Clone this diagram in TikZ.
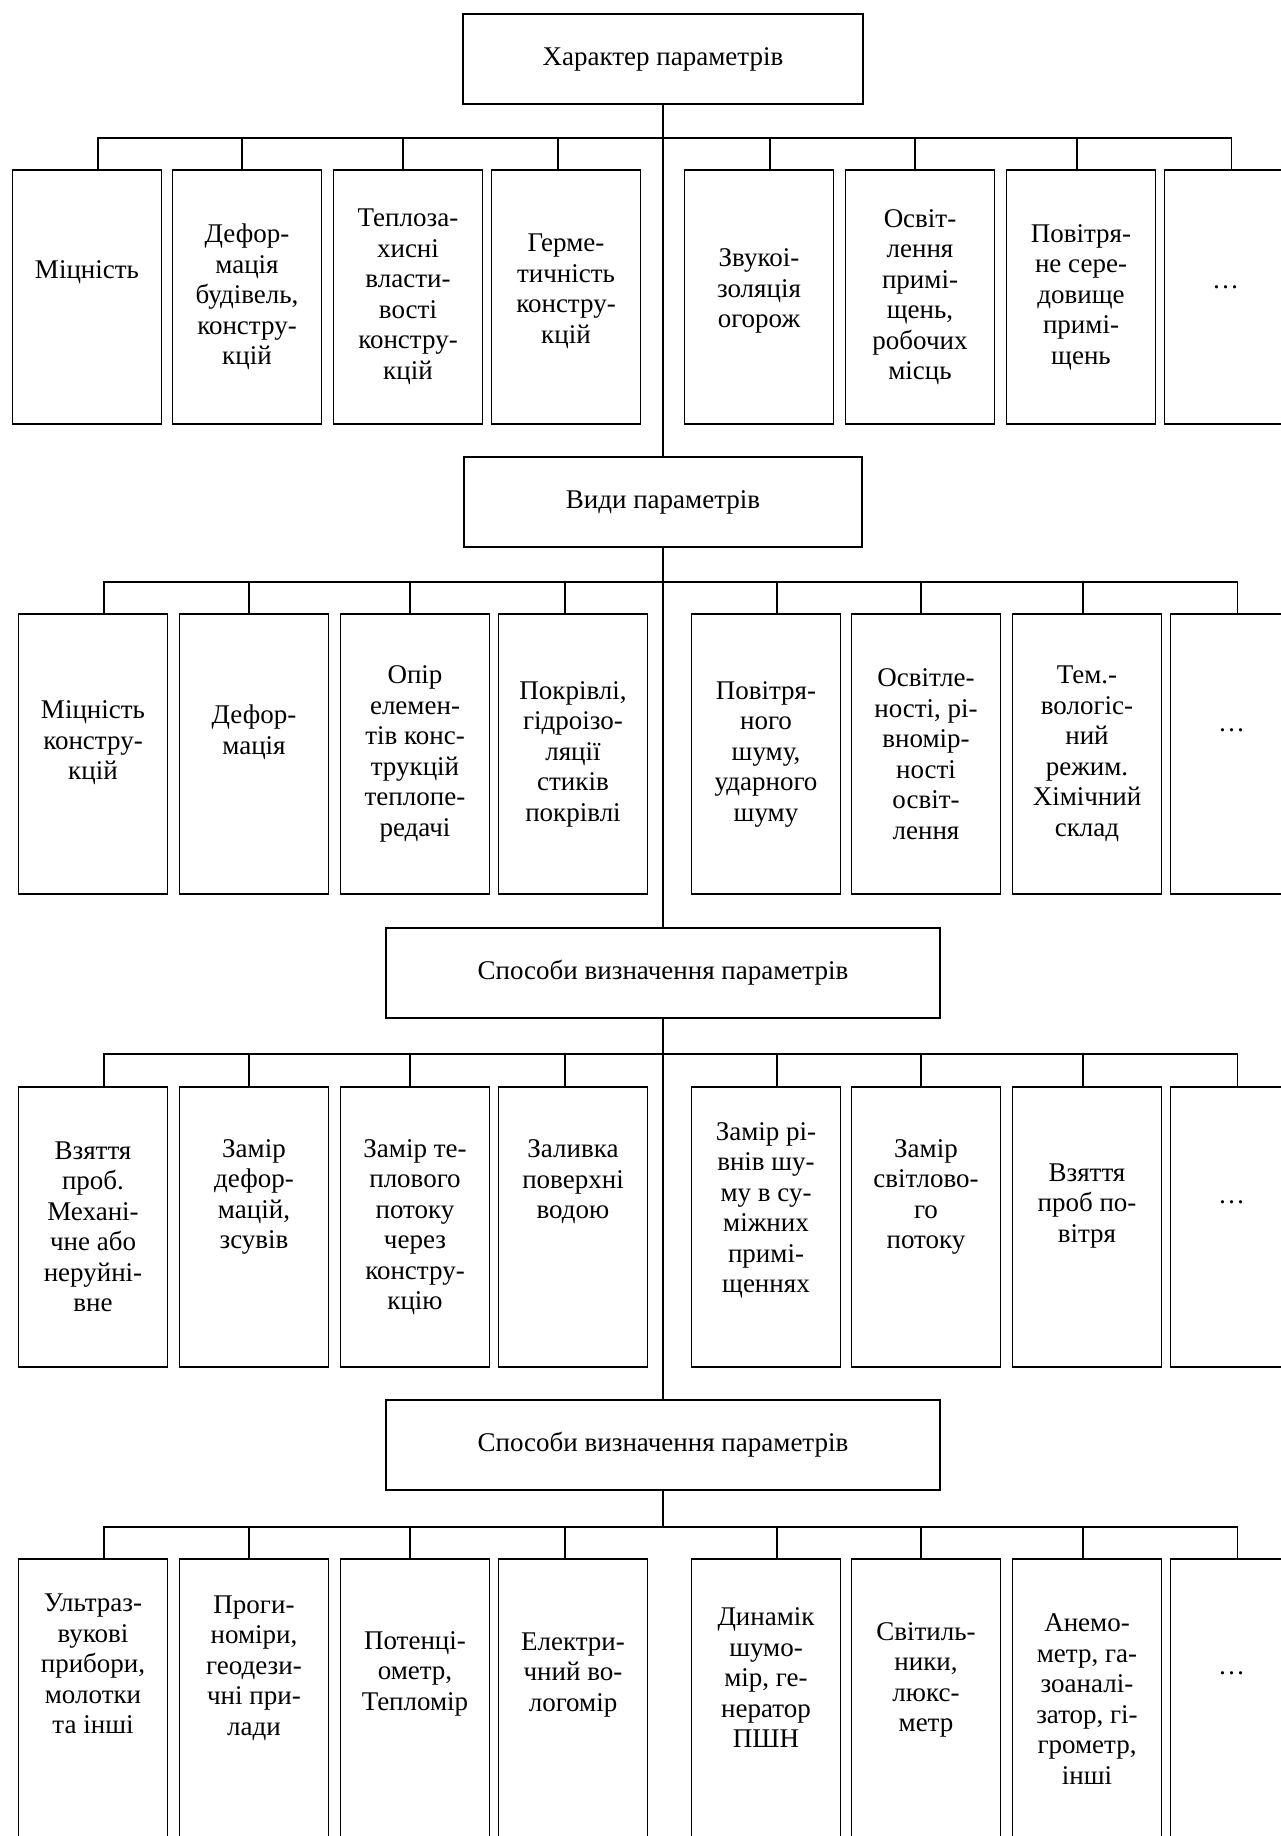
\documentclass[tikz,border=0pt]{standalone}
\usepackage{fontspec}
\setmainfont{Liberation Serif}
\usetikzlibrary{positioning}

\begin{document}
\begin{tikzpicture}[
          x=1pt, y=-1pt,
          line width=1.8pt,
          font=\fontsize{27}{30.5}\selectfont,
          head/.style = {draw, minimum height=90pt, inner sep=2pt, outer sep=0pt},
          box/.style = {draw, minimum width=149pt, minimum height=280pt, align=center, inner sep=2pt, outer sep=0pt},
          lowbox/.style = {box, minimum height=254pt},
          lastbox/.style = {minimum width=122pt},
          lift/.style = {text depth=#1pt}
         ]

        \useasboundingbox (0,0) rectangle (1281,1836);
        \clip (0,0) rectangle (1281,1836);

        % Характер параметрів
        \node[head, minimum width=400pt] (har) at (663,59) {Характер параметрів};

        \node[lowbox, anchor=north west, lift=55] (h1) at (12.5,170) {Міцність};
        \node[lowbox, right=11pt of h1] (h2) {Дефор-\\мація\\будівель,\\констру-\\кцій};
        \node[lowbox, right=12pt of h2] (h3) {Теплоза-\\хисні\\власти-\\вості\\констру-\\кцій};
        \node[lowbox, right=9pt of h3, lift=17] (h4) {Герме-\\тичність\\констру-\\кцій};
        \node[lowbox, right=44pt of h4, lift=17] (h5) {Звукоі-\\золяція\\огорож};
        \node[lowbox, right=12pt of h5] (h6) {Освіт-\\лення\\примі-\\щень,\\робочих\\місць};
        \node[lowbox, right=12pt of h6] (h7) {Повітря-\\не сере-\\довище\\примі-\\щень};
        \node[lowbox, lastbox, right=9pt of h7, lift=20] (h8) {…};

        % Види параметрів
        \node[head, minimum width=398pt, below=353pt of har] (vyd) {Види параметрів};

        \node[box, anchor=north west, lift=27] (v1) at (18.5,614) {Міцність\\констру-\\кцій};
        \node[box, right=12pt of v1, lift=49] (v2) {Дефор-\\мація};
        \node[box, right=12pt of v2] (v3) {Опір\\елемен-\\тів конс-\\трукцій\\теплопе-\\редачі};
        \node[box, right=9pt of v3] (v4) {Покрівлі,\\гідроізо-\\ляції\\стиків\\покрівлі};
        \node[box, right=44pt of v4] (v5) {Повітря-\\ного\\шуму,\\ударного\\шуму};
        \node[box, right=11pt of v5] (v6) {Освітле-\\ності, рі-\\вномір-\\ності\\освіт-\\лення};
        \node[box, right=12pt of v6] (v7) {Тем.-\\вологіс-\\ний\\режим.\\Хімічний\\склад};
        \node[box, lastbox, right=9pt of v7, lift=48] (v8) {…};

        % Способи визначення параметрів
        \node[head, minimum width=554pt, below=381pt of vyd] (spo) {Способи визначення параметрів};

        \node[box, anchor=north west] (s1) at (18.5,1087) {Взяття\\проб.\\Механі-\\чне або\\неруйні-\\вне};
        \node[box, right=12pt of s1, lift=66] (s2) {Замір\\дефор-\\мацій,\\зсувів};
        \node[box, right=12pt of s2] (s3) {Замір те-\\плового\\потоку\\через\\констру-\\кцію};
        \node[box, right=9pt of s3, lift=95] (s4) {Заливка\\поверхні\\водою};
        \node[box, right=44pt of s4, lift=39] (s5) {Замір рі-\\внів шу-\\му в су-\\міжних\\примі-\\щеннях};
        \node[box, right=11pt of s5, lift=66] (s6) {Замір\\світлово-\\го\\потоку};
        \node[box, right=12pt of s6, lift=48] (s7) {Взяття\\проб по-\\вітря};
        \node[box, lastbox, right=9pt of s7, lift=50] (s8) {…};

        % Прилади (Способи визначення параметрів)
        \node[head, minimum width=554pt, below=382pt of spo] (spo2) {Способи визначення параметрів};

        \node[box, anchor=north west, lift=70] (p1) at (18.5,1559) {Ультраз-\\вукові\\прибори,\\молотки\\та інші};
        \node[box, right=12pt of p1, lift=67] (p2) {Проги-\\номіри,\\геодези-\\чні при-\\лади};
        \node[box, right=12pt of p2, lift=56] (p3) {Потенці-\\ометр,\\Тепломір};
        \node[box, right=9pt of p3, lift=54] (p4) {Електри-\\чний во-\\логомір};
        \node[box, right=44pt of p4, lift=42] (p5) {Динамік\\шумо-\\мір, ге-\\нератор\\ПШН};
        \node[box, right=11pt of p5, lift=44] (p6) {Світиль-\\ники,\\люкс-\\метр};
        \node[box, right=12pt of p6] (p7) {Анемо-\\метр, га-\\зоаналі-\\затор, гі-\\грометр,\\інші};
        \node[box, lastbox, right=9pt of p7, lift=52] (p8) {…};

        % Лінії
        \coordinate (b1) at (0,138);
        \coordinate (b2) at (0,582);
        \coordinate (b3) at (0,1054);
        \coordinate (b4) at (0,1527);

        \draw (har.south) -- (vyd.north);
        \draw (vyd.south) -- (spo.north);
        \draw (spo.south) -- (spo2.north);
        \draw (spo2.south) -- (spo2.south |- b4);

        \draw ([xshift=11pt]h1.north) |- ([xshift=6pt]h8.north |- b1) -- ([xshift=6pt]h8.north);
        \draw ([xshift=-5pt]h2.north) -- ([xshift=-5pt]h2.north |- b1) ([xshift=-5pt]h3.north) -- ([xshift=-5pt]h3.north |- b1)
              ([xshift=-8pt]h4.north) -- ([xshift=-8pt]h4.north |- b1) ([xshift=11pt]h5.north) -- ([xshift=11pt]h5.north |- b1)
              ([xshift=-5pt]h6.north) -- ([xshift=-5pt]h6.north |- b1) ([xshift=-4pt]h7.north) -- ([xshift=-4pt]h7.north |- b1);

        \draw ([xshift=11pt]v1.north) |- ([xshift=6pt]v8.north |- b2) -- ([xshift=6pt]v8.north);
        \draw ([xshift=-5pt]v2.north) -- ([xshift=-5pt]v2.north |- b2) ([xshift=-5pt]v3.north) -- ([xshift=-5pt]v3.north |- b2)
              ([xshift=-8pt]v4.north) -- ([xshift=-8pt]v4.north |- b2) ([xshift=11pt]v5.north) -- ([xshift=11pt]v5.north |- b2)
              ([xshift=-5pt]v6.north) -- ([xshift=-5pt]v6.north |- b2) ([xshift=-4pt]v7.north) -- ([xshift=-4pt]v7.north |- b2);

        \draw ([xshift=11pt]s1.north) |- ([xshift=6pt]s8.north |- b3) -- ([xshift=6pt]s8.north);
        \draw ([xshift=-5pt]s2.north) -- ([xshift=-5pt]s2.north |- b3) ([xshift=-5pt]s3.north) -- ([xshift=-5pt]s3.north |- b3)
              ([xshift=-8pt]s4.north) -- ([xshift=-8pt]s4.north |- b3) ([xshift=11pt]s5.north) -- ([xshift=11pt]s5.north |- b3)
              ([xshift=-5pt]s6.north) -- ([xshift=-5pt]s6.north |- b3) ([xshift=-4pt]s7.north) -- ([xshift=-4pt]s7.north |- b3);

        \draw ([xshift=11pt]p1.north) |- ([xshift=6pt]p8.north |- b4) -- ([xshift=6pt]p8.north);
        \draw ([xshift=-5pt]p2.north) -- ([xshift=-5pt]p2.north |- b4) ([xshift=-5pt]p3.north) -- ([xshift=-5pt]p3.north |- b4)
              ([xshift=-8pt]p4.north) -- ([xshift=-8pt]p4.north |- b4) ([xshift=11pt]p5.north) -- ([xshift=11pt]p5.north |- b4)
              ([xshift=-5pt]p6.north) -- ([xshift=-5pt]p6.north |- b4) ([xshift=-4pt]p7.north) -- ([xshift=-4pt]p7.north |- b4);

\end{tikzpicture}
\end{document}
